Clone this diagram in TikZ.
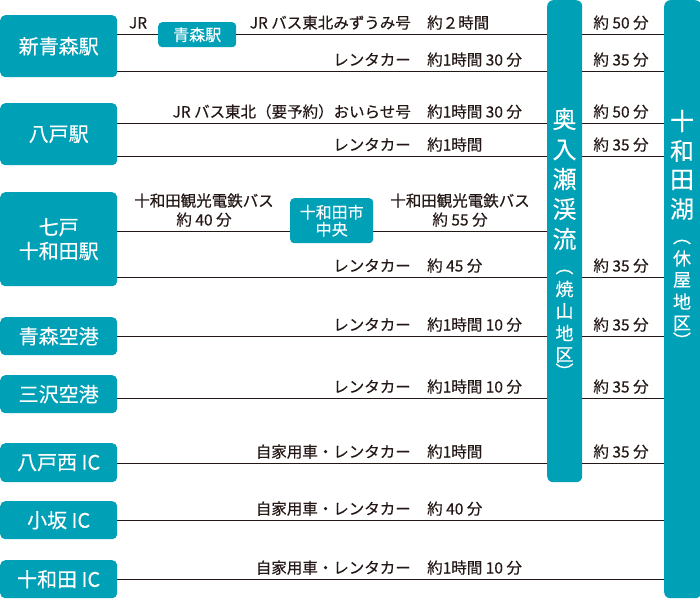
\documentclass[tikz,border=0pt]{standalone}
\usepackage{fontspec}
\setmainfont{Noto Sans CJK JP}
\newfontfamily\inkfont[FakeBold=0.35]{Noto Sans CJK JP}
\newfontfamily\boxfont[FakeBold=0.2]{Noto Sans CJK JP}
\definecolor{tealc}{RGB}{0,160,182}
\definecolor{ink}{RGB}{35,24,21}
\begin{document}
\begin{tikzpicture}[x=1pt,y=-1pt,
  bigbox/.style={fill=tealc,rounded corners=5pt,text=white,inner sep=0pt,
    minimum width=117pt,align=center,anchor=north west,
    font=\boxfont\fontsize{20}{24}\selectfont},
  smallbox/.style={fill=tealc,rounded corners=4pt,text=white,inner sep=0pt,
    align=center,anchor=north west,font=\boxfont\fontsize{16}{17}\selectfont},
  colbox/.style={fill=tealc,rounded corners=6pt,inner sep=0pt,anchor=north west},
  coltxt/.style={text=white,inner sep=0pt,font=\boxfont\fontsize{24}{24}\selectfont},
  colsub/.style={text=white,inner sep=0pt,font=\boxfont\fontsize{18}{18}\selectfont},
  lbl/.style={text=ink,inner sep=0pt,anchor=base east,font=\inkfont\fontsize{15.5}{19}\selectfont},
  tm/.style={text=ink,inner sep=0pt,anchor=base west,font=\inkfont\fontsize{15.5}{19}\selectfont},
  rt/.style={text=ink,inner sep=0pt,anchor=base,align=center,font=\inkfont\fontsize{15.5}{19}\selectfont},
  conn/.style={draw=ink,line width=1pt}]
\useasboundingbox (0,0) rectangle (700,600);

% columns
\node[colbox,minimum width=35pt,minimum height=482pt] (ok) at (547,0) {};
\node[colbox,minimum width=37pt,minimum height=598pt] (tw) at (664,0) {};
\foreach \c/\yy in {奥/119,入/150,瀬/179,渓/209,流/239}
  \node[coltxt] at (564.5,\yy) {\c};
\foreach \c/\yy in {︵/272,焼/289,山/311,地/333,区/355,︶/371}
  \node[colsub] at (564.5,\yy) {\c};
\foreach \c/\yy in {十/121,和/151,田/180,湖/209}
  \node[coltxt] at (682,\yy) {\c};
\foreach \c/\yy in {︵/242,休/258.5,屋/280,地/301.5,区/323.5,︶/340}
  \node[colsub] at (682,\yy) {\c};

% origin boxes
\node[bigbox,minimum height=62pt] (b1) at (0,15) {新青森駅};
\node[bigbox,minimum height=62pt] (b2) at (0,103) {八戸駅};
\node[bigbox,minimum height=94pt] (b3) at (0,192) {七戸\\十和田駅};
\node[bigbox,minimum height=38pt] (b4) at (0,317) {青森空港};
\node[bigbox,minimum height=38pt] (b5) at (0,375) {三沢空港};
\node[bigbox,minimum height=39pt] (b6) at (0,443) {八戸西 IC};
\node[bigbox,minimum height=38pt] (b7) at (0,501) {小坂 IC};
\node[bigbox,minimum height=38pt] (b8) at (0,560) {十和田 IC};

% intermediate boxes
\node[smallbox,minimum width=78pt,minimum height=25pt] (ao) at (158,22) {青森駅};
\node[smallbox,minimum width=83pt,minimum height=45pt] (tc) at (290,198) {十和田市\\中央};

% row levels
\foreach \n/\yy in {r1/34,r2/71,r3/123,r4/156,r5/231,r6/277,r7/336,r8/398,r9/463,r10/520,r11/579}
  \coordinate (\n) at (0,\yy);

% connectors
\draw[conn] (b1.east |- r1) -- (ao.west |- r1);
\draw[conn] (ao.east |- r1) -- (ok.west |- r1);
\draw[conn] (ok.east |- r1) -- (tw.west |- r1);
\draw[conn] (b1.east |- r2) -- (ok.west |- r2);
\draw[conn] (ok.east |- r2) -- (tw.west |- r2);
\draw[conn] (b2.east |- r3) -- (ok.west |- r3);
\draw[conn] (ok.east |- r3) -- (tw.west |- r3);
\draw[conn] (b2.east |- r4) -- (ok.west |- r4);
\draw[conn] (ok.east |- r4) -- (tw.west |- r4);
\draw[conn] (b3.east |- r5) -- (tc.west |- r5);
\draw[conn] (tc.east |- r5) -- (ok.west |- r5);
\draw[conn] (b3.east |- r6) -- (ok.west |- r6);
\draw[conn] (ok.east |- r6) -- (tw.west |- r6);
\draw[conn] (b4.east |- r7) -- (ok.west |- r7);
\draw[conn] (ok.east |- r7) -- (tw.west |- r7);
\draw[conn] (b5.east |- r8) -- (ok.west |- r8);
\draw[conn] (ok.east |- r8) -- (tw.west |- r8);
\draw[conn] (b6.east |- r9) -- (ok.west |- r9);
\draw[conn] (ok.east |- r9) -- (tw.west |- r9);
\draw[conn] (b7.east |- r10) -- (tw.west |- r10);
\draw[conn] (b8.east |- r11) -- (tw.west |- r11);

% labels
\node[rt] (l0) at (138,28.5) {JR};
\node[lbl] (l1) at (411,28.5) {JR バス東北みずうみ号};
\node[tm] (t1) at (427,28.5) {約２時間};
\node[rt] (s1) at (621,28.5) {約 50 分};

\node[lbl] (l2) at (411,65.5) {レンタカー};
\node[tm] (t2) at (427,65.5) {約1時間 30 分};
\node[rt] (s2) at (621,65.5) {約 35 分};

\node[lbl] (l3) at (411,117.5) {JR バス東北（要予約）おいらせ号};
\node[tm] (t3) at (427,117.5) {約1時間 30 分};
\node[rt] (s3) at (621,117.5) {約 50 分};

\node[lbl] (l4) at (411,150.5) {レンタカー};
\node[tm] (t4) at (427,150.5) {約1時間};
\node[rt] (s4) at (621,150.5) {約 35 分};

\node[rt] (l5a) at (204,206.5) {十和田観光電鉄バス};
\node[rt] (l5b) at (204,225.5) {約 40 分};
\node[rt] (l5c) at (460,206.5) {十和田観光電鉄バス};
\node[rt] (l5d) at (460,225.5) {約 55 分};

\node[lbl] (l6) at (411,271.5) {レンタカー};
\node[tm] (t6) at (427,271.5) {約 45 分};
\node[rt] (s6) at (621,271.5) {約 35 分};

\node[lbl] (l7) at (411,330.5) {レンタカー};
\node[tm] (t7) at (427,330.5) {約1時間 10 分};
\node[rt] (s7) at (621,330.5) {約 35 分};

\node[lbl] (l8) at (411,392.5) {レンタカー};
\node[tm] (t8) at (427,392.5) {約1時間 10 分};
\node[rt] (s8) at (621,392.5) {約 35 分};

\node[lbl] (l9) at (411,457.5) {自家用車・レンタカー};
\node[tm] (t9) at (427,457.5) {約1時間};
\node[rt] (s9) at (621,457.5) {約 35 分};

\node[lbl] (l10) at (411,514.5) {自家用車・レンタカー};
\node[tm] (t10) at (427,514.5) {約 40 分};

\node[lbl] (l11) at (411,573.5) {自家用車・レンタカー};
\node[tm] (t11) at (427,573.5) {約1時間 10 分};
\end{tikzpicture}
\end{document}
